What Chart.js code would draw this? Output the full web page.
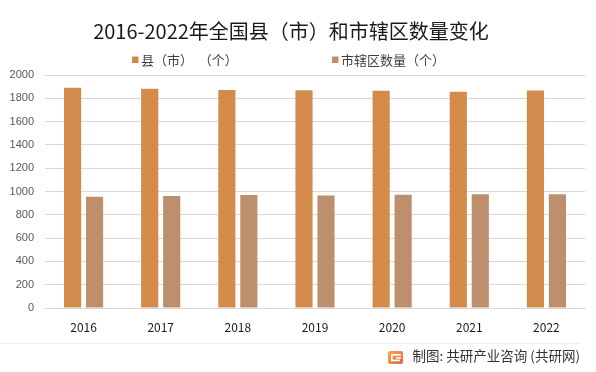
<!DOCTYPE html>
<html>
<head>
<meta charset="utf-8">
<script src="https://cdn.jsdelivr.net/npm/chart.js@4.4.1/dist/chart.umd.min.js"></script>
<style>
  html, body { margin: 0; padding: 0; background: #fff; }
  #wrap { position: relative; width: 596px; height: 372px; }
</style>
</head>
<body>
<div id="wrap"><canvas id="c" width="596" height="372"></canvas></div>
<script>
  const years = ['2016', '2017', '2018', '2019', '2020', '2021', '2022'];
  const countyCities = [1890, 1881, 1872, 1870, 1865, 1856, 1866];
  const districts = [954, 962, 970, 965, 973, 977, 977];
  const yTicks = [0, 200, 400, 600, 800, 1000, 1200, 1400, 1600, 1800, 2000];

  const titleText = '2016-2022年全国县（市）和市辖区数量变化';
  const sourceText = '制图: 共研产业咨询 (共研网)';
  const CJK = '"Noto Sans CJK SC", "Noto Sans", sans-serif';

  // タイトル・凡例・出典をまとめて描く
  const decorPlugin = {
    id: 'decor',
    afterDraw(chart) {
      const ctx = chart.ctx;
      ctx.save();
      ctx.fillStyle = '#1a1a1a';
      ctx.font = '20px ' + CJK;
      ctx.textAlign = 'center';
      ctx.textBaseline = 'middle';
      ctx.fillText(titleText, 291, 31);

      // 凡例
      ctx.font = '13px ' + CJK;
      ctx.textAlign = 'left';
      const legendX = [132, 332];
      chart.data.datasets.forEach((ds, i) => {
        ctx.fillStyle = ds.backgroundColor;
        ctx.fillRect(legendX[i], 56.5, 6.5, 6.5);
        ctx.fillStyle = '#404040';
        ctx.fillText(ds.label, legendX[i] + 9, 60);
      });

      // 区切り線
      ctx.strokeStyle = '#eeeeee';
      ctx.lineWidth = 1;
      ctx.beginPath();
      ctx.moveTo(0, 343.5);
      ctx.lineTo(580, 343.5);
      ctx.stroke();

      // 出典ロゴ
      const g = ctx.createLinearGradient(388, 351, 403, 364);
      g.addColorStop(0, '#f7a85c');
      g.addColorStop(1, '#e8643c');
      ctx.fillStyle = g;
      ctx.beginPath();
      ctx.roundRect(388, 351, 15, 13, 2);
      ctx.fill();
      ctx.fillStyle = '#ffffff';
      ctx.fillRect(391, 354, 10, 1.6);
      ctx.fillRect(391, 354, 1.6, 7);
      ctx.fillRect(391, 359.6, 9, 1.6);
      ctx.fillRect(396, 357, 5, 1.6);

      ctx.fillStyle = '#333333';
      ctx.font = '13.5px ' + CJK;
      ctx.textAlign = 'right';
      ctx.fillText(sourceText, 580, 356);
      ctx.restore();
    }
  };

  new Chart(document.getElementById('c'), {
    type: 'bar',
    data: {
      labels: years,
      datasets: [
        {
          label: '县（市）  （个）',
          data: countyCities,
          backgroundColor: '#d38b4c',
          categoryPercentage: 0.57,
          barPercentage: 0.78
        },
        {
          label: '市辖区数量（个）',
          data: districts,
          backgroundColor: '#bd8f6d',
          categoryPercentage: 0.57,
          barPercentage: 0.78
        }
      ]
    },
    options: {
      responsive: false,
      animation: false,
      devicePixelRatio: 1,
      layout: { padding: { top: 75, right: 11, bottom: 0, left: 0 } },
      plugins: {
        legend: { display: false },
        title: { display: false },
        tooltip: { enabled: false }
      },
      scales: {
        y: {
          min: 0,
          max: 2000,
          afterFit(scale) { scale.width = 45; },
          afterBuildTicks(scale) { scale.ticks = yTicks.map(v => ({ value: v })); },
          border: { display: false },
          grid: { color: '#d9d9d9', drawTicks: false, lineWidth: 1 },
          ticks: {
            padding: 11,
            color: '#595959',
            font: { family: '"Liberation Sans", Arial, sans-serif', size: 11 },
            callback: v => String(v)
          }
        },
        x: {
          afterFit(scale) { scale.height = 64; },
          border: { display: true, color: '#d9d9d9' },
          grid: { display: false, drawTicks: false },
          ticks: {
            padding: 12,
            color: '#1a1a1a',
            font: { family: CJK, size: 12 }
          }
        }
      }
    },
    plugins: [decorPlugin]
  });
</script>
</body>
</html>
